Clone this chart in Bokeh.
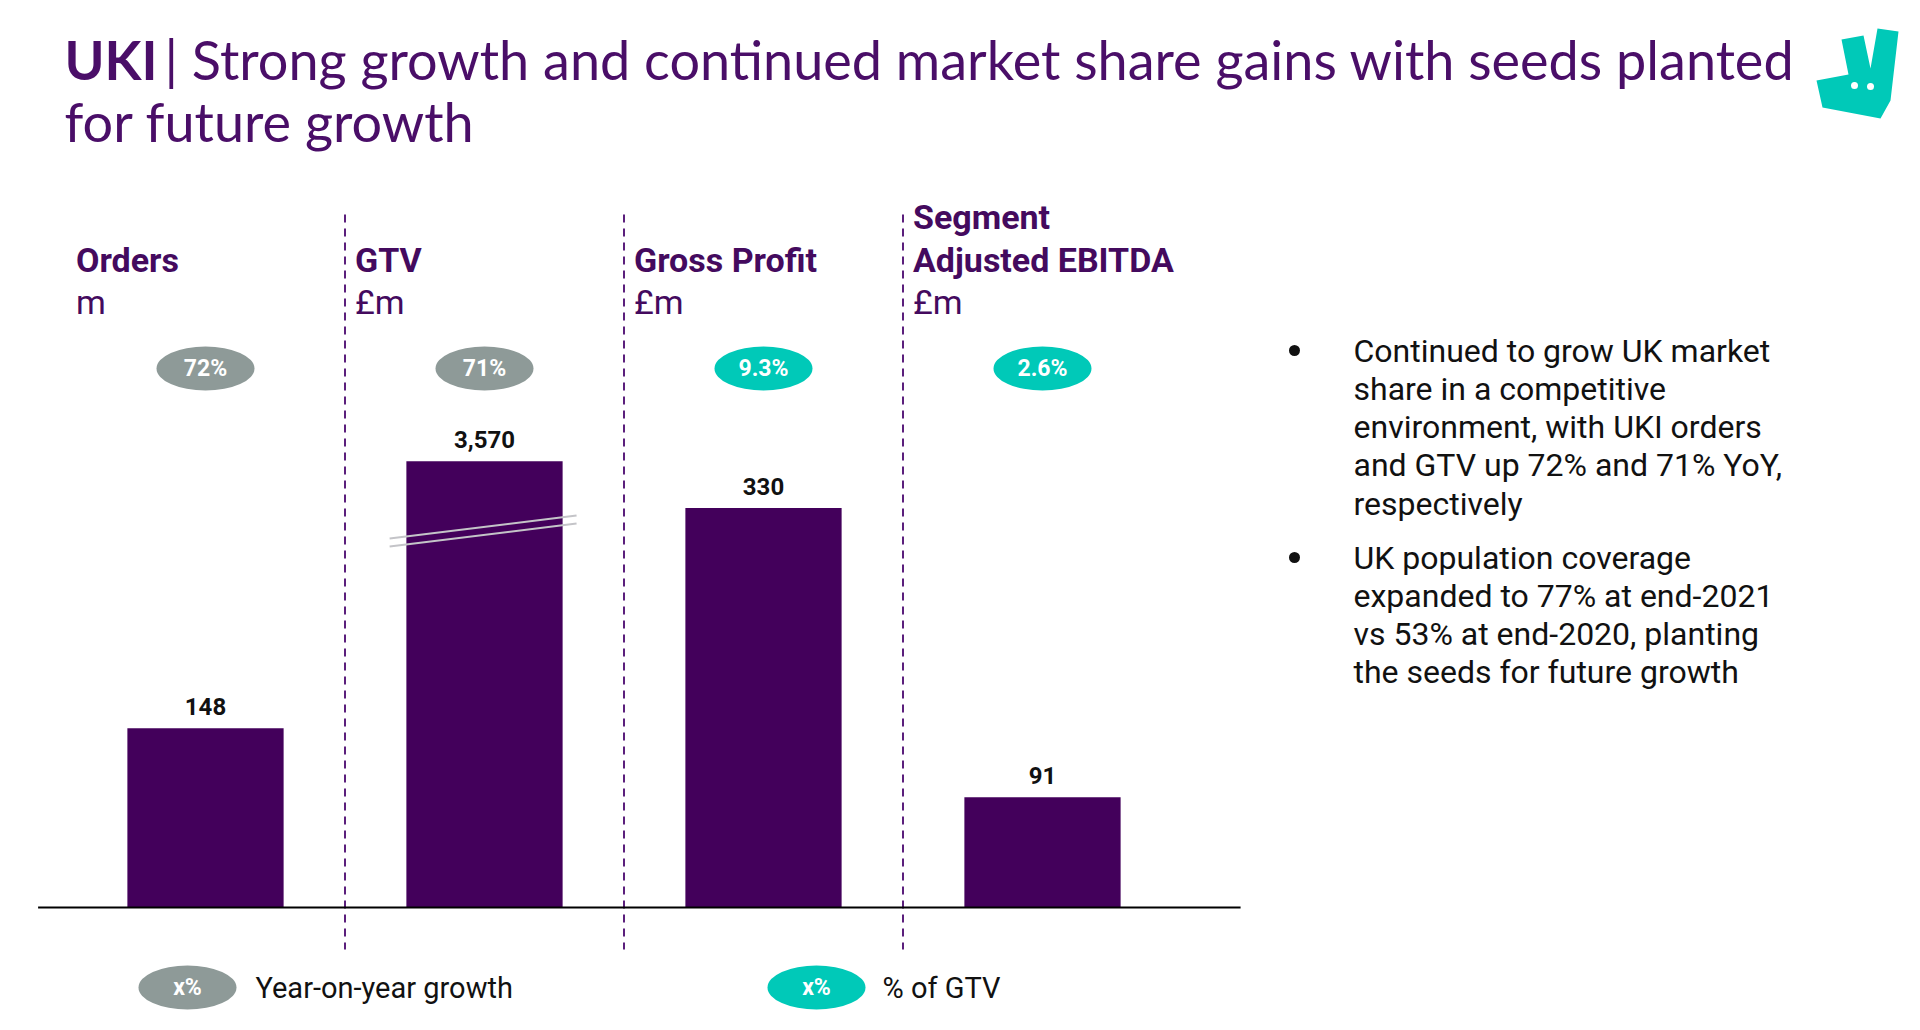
from bokeh.plotting import figure
from bokeh.models import Range1d
from bokeh.core.properties import value
from bokeh.embed import file_html
from bokeh.resources import INLINE

# ---------------- data ----------------
title_bold = "UKI"
title_line1 = "| Strong growth and continued market share gains with seeds planted"
title_line2 = "for future growth"

header_top = ["", "", "", "Segment"]
header_main = ["Orders", "GTV", "Gross Profit", "Adjusted EBITDA"]
units = ["m", "£m", "£m", "£m"]
values = [148, 3570, 330, 91]
value_labels = ["148", "3,570", "330", "91"]
bar_scale = ["main", "gtv", "main", "main"]   # GTV drawn on a broken (compressed) scale
pill_labels = ["72%", "71%", "9.3%", "2.6%"]
pill_kinds = ["yoy", "yoy", "gtv", "gtv"]

legend_labels = ["Year-on-year growth", "% of GTV"]
legend_kinds = ["yoy", "gtv"]

bullets = [
    ["Continued to grow UK market", "share in a competitive",
     "environment, with UKI orders", "and GTV up 72% and 71% YoY,",
     "respectively"],
    ["UK population coverage", "expanded to 77% at end-2021",
     "vs 53% at end-2020, planting", "the seeds for future growth"],
]

# ---------------- style ----------------
PURPLE = "#4a0e68"
HEAD = "#440a5e"
BAR = "#43005b"
TEAL = "#00c9b8"
GREY = "#8e9a98"
KIND_COLOR = {"yoy": GREY, "gtv": TEAL}

W, H = 1904, 1014
X0, DX = 205, 279          # pixel centre of first bar, spacing between bars
BASE = 907                 # pixel baseline of bars
K_MAIN = 0.826             # value units per pixel, main scale
K_GTV = 8.0                # value units per pixel, GTV scale

p = figure(width=W, height=H, output_backend="svg", toolbar_location=None,
           x_range=Range1d(0, W), y_range=Range1d(H, 0),
           x_axis_location=None, y_axis_location=None,
           min_border=0, min_border_left=0, min_border_right=0,
           min_border_top=0, min_border_bottom=0)
p.grid.visible = False
p.outline_line_color = None
p.background_fill_color = "white"
p.border_fill_color = "white"

p.extra_x_ranges = {"idx": Range1d((0 - X0) / DX, (W - X0) / DX)}
p.extra_y_ranges = {
    "main": Range1d(-(H - BASE) * K_MAIN, BASE * K_MAIN),
    "gtv": Range1d(-(H - BASE) * K_GTV, BASE * K_GTV),
}

idx = list(range(len(values)))

# ---------------- title ----------------
TF = value("Lato")
p.text(x=[64], y=[59], text=[title_bold], text_font=TF, text_font_size="54px",
       text_font_style="bold", text_color=PURPLE, text_baseline="middle")
p.text(x=[164], y=[59], text=[title_line1], text_font=TF, text_font_size="54px",
       text_color=PURPLE, text_baseline="middle")
p.text(x=[64], y=[121], text=[title_line2], text_font=TF, text_font_size="54px",
       text_color=PURPLE, text_baseline="middle")

# logo (decorative)
logo_x = [1816, 1848, 1841, 1863, 1870, 1877, 1898, 1890, 1880, 1822]
logo_y = [80, 74, 39, 35, 68, 28, 31, 100, 118, 107]
p.patch(logo_x, logo_y, fill_color=TEAL, line_color=None)
p.scatter([1854, 1870], [85, 86], size=7, fill_color="white", line_color=None)

# ---------------- section headers ----------------
RF = value("Roboto")
hx = [i - 0.5 for i in idx]
p.text(x=hx, y=[216] * 4, text=header_top, x_range_name="idx", x_offset=10,
       text_font=RF, text_font_size="34px", text_font_style="bold",
       text_color=HEAD, text_baseline="middle")
p.text(x=hx, y=[259] * 4, text=header_main, x_range_name="idx", x_offset=10,
       text_font=RF, text_font_size="34px", text_font_style="bold",
       text_color=HEAD, text_baseline="middle")
p.text(x=hx, y=[301] * 4, text=units, x_range_name="idx", x_offset=10,
       text_font=RF, text_font_size="34px",
       text_color=HEAD, text_baseline="middle")

# separators
sx = [i + 0.5 for i in idx[:-1]]
p.segment(x0=sx, y0=[214] * 3, x1=sx, y1=[949] * 3, x_range_name="idx",
          line_color="#5b1f7c", line_width=2, line_dash="8 6")

# pills
pill_colors = [KIND_COLOR[k] for k in pill_kinds]
p.ellipse(x=idx, y=[368] * 4, width=98, height=44, width_units="screen",
          height_units="screen", x_range_name="idx",
          fill_color=pill_colors, line_color=None)
p.text(x=idx, y=[368] * 4, text=pill_labels, x_range_name="idx",
       text_font=RF, text_font_size="23px", text_font_style="bold",
       text_color="white", text_align="center", text_baseline="middle")

# ---------------- bars ----------------
for i in idx:
    p.vbar(x=[i], top=[values[i]], bottom=0, width=0.56,
           x_range_name="idx", y_range_name=bar_scale[i],
           fill_color=BAR, line_color=None)
    p.text(x=[i], y=[values[i]], text=[value_labels[i]],
           x_range_name="idx", y_range_name=bar_scale[i], y_offset=-13,
           text_font=RF, text_font_size="24px", text_font_style="bold",
           text_color="#111111", text_align="center", text_baseline="bottom")

# axis break marks on GTV bar
gi = bar_scale.index("gtv")
p.segment(x0=[gi - 0.34, gi - 0.34], y0=[538, 546],
          x1=[gi + 0.33, gi + 0.33], y1=[515, 523],
          x_range_name="idx", line_color="#c4c4c8", line_width=2)

# baseline
p.segment(x0=[-0.6], y0=[0], x1=[3.71], y1=[0], x_range_name="idx",
          y_range_name="main", line_color="black", line_width=2)

# ---------------- legend ----------------
leg_x = [187, 816]
p.ellipse(x=leg_x, y=[987, 987], width=98, height=44,
          fill_color=[KIND_COLOR[k] for k in legend_kinds], line_color=None)
p.text(x=leg_x, y=[987, 987], text=["x%", "x%"], text_font=RF,
       text_font_size="23px", text_font_style="bold", text_color="white",
       text_align="center", text_baseline="middle")
p.text(x=[255, 882], y=[987, 987], text=legend_labels, text_font=RF,
       text_font_size="29px", text_color="#111111", text_baseline="middle")

# ---------------- bullets ----------------
bullet_start = [350, 557]
LS = 38.3
for b, lines in enumerate(bullets):
    ys = [bullet_start[b] + LS * j for j in range(len(lines))]
    p.scatter([1294], [ys[0]], size=11, fill_color="#111111", line_color=None)
    p.text(x=[1353] * len(lines), y=ys, text=lines, text_font=RF,
           text_font_size="32px", text_color="#111111", text_baseline="middle")

open("out.html", "w").write(file_html(p, INLINE))
